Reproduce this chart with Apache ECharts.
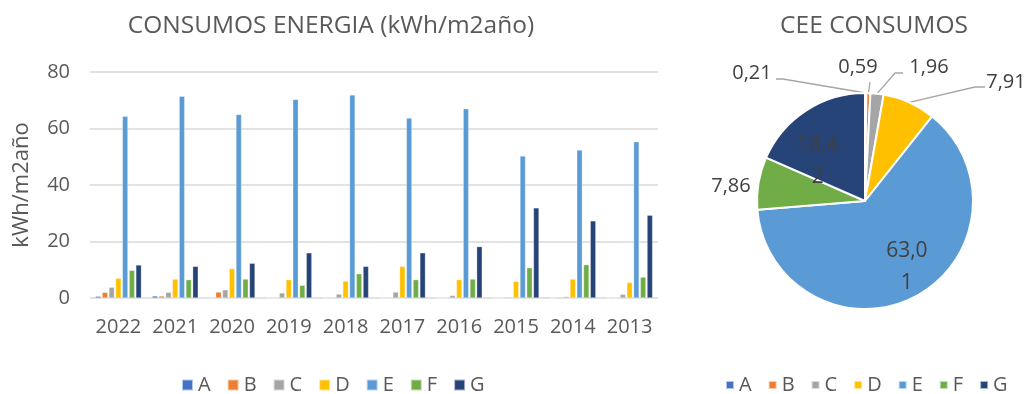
<!DOCTYPE html>
<html>
<head>
<meta charset="utf-8">
<script src="https://cdn.jsdelivr.net/npm/echarts@6/dist/echarts.min.js"></script>
<style>
  html, body { margin: 0; padding: 0; background: #fff; }
  #chart { width: 1032px; height: 394px; }
</style>
</head>
<body>
<div id="chart"></div>
<script>
// Years on the category axis
const years = ['2022', '2021', '2020', '2019', '2018', '2017', '2016', '2015', '2014', '2013'];
// Energy-rating classes
const classes = ['A', 'B', 'C', 'D', 'E', 'F', 'G'];
// Consumption per class and year (kWh/m2año)
const seriesA = [0.6, 0.7, 0, 0, 0, 0, 0, 0, 0, 0];
const seriesB = [2.0, 0.7, 2.1, 0, 0, 0, 0, 0, 0.3, 0];
const seriesC = [3.8, 2.0, 2.9, 1.8, 1.4, 2.1, 0.9, 0.3, 0.5, 1.3];
const seriesD = [7.0, 6.7, 10.4, 6.5, 6.0, 11.2, 6.5, 5.9, 6.7, 5.5];
const seriesE = [64.3, 71.4, 65.0, 70.3, 71.9, 63.7, 67.0, 50.3, 52.4, 55.3];
const seriesF = [9.8, 6.5, 6.7, 4.5, 8.6, 6.5, 6.7, 10.7, 11.8, 7.4];
const seriesG = [11.7, 11.2, 12.3, 16.0, 11.2, 16.0, 18.2, 31.9, 27.3, 29.3];
// Share of each class in the CEE consumption
const ceeValues = [0.21, 0.59, 1.96, 7.91, 63.01, 7.86, 18.42];
// Value-axis ticks
const yTicks = [0, 20, 40, 60, 80];

const palette = ['#4472C4', '#ED7D31', '#A5A5A5', '#FFC000', '#5B9BD5', '#70AD47', '#264478'];
const FONT = 'Open Sans';
const TXT = '#595959';

const barData = [seriesA, seriesB, seriesC, seriesD, seriesE, seriesF, seriesG];

const fmt = v => v.toFixed(2).replace('.', ',');

// Placement of the outside pie labels (anchor point, line elbow)
const outsideLabels = {
  0: { x: 752, y: 73, elbow: [783, 79], end: [776, 79] },
  1: { x: 858, y: 67, elbow: [870, 82], end: [870, 82] },
  2: { x: 929, y: 67, elbow: [895, 73], end: [903, 73] },
  3: { x: 1006, y: 82, elbow: [975, 87], end: [985, 87] },
  5: { x: 731, y: 186 }
};
// Nudges for the labels drawn inside the large slices
const insideNudge = { 4: [15, 16], 6: [-16, 8] };

const chart = echarts.init(document.getElementById('chart'), null, { renderer: 'canvas' });

chart.setOption({
  animation: false,
  color: palette,
  textStyle: { fontFamily: FONT, color: TXT },
  title: [
    { text: 'CONSUMOS ENERGIA (kWh/m2año)', left: 326, top: 9, textAlign: 'center',
      textStyle: { fontFamily: FONT, fontSize: 24.5, fontWeight: 'normal', color: TXT } },
    { text: 'CEE CONSUMOS', left: 869, top: 9, textAlign: 'center',
      textStyle: { fontFamily: FONT, fontSize: 24.5, fontWeight: 'normal', color: TXT } }
  ],
  legend: [
    { data: classes, left: 176, top: 370, itemWidth: 11, itemHeight: 11, itemGap: 16,
      icon: 'rect', textStyle: { fontFamily: FONT, fontSize: 20, color: TXT } },
    { data: classes, left: 720, top: 370, itemWidth: 8, itemHeight: 8, itemGap: 16,
      icon: 'rect', textStyle: { fontFamily: FONT, fontSize: 20, color: TXT } }
  ],
  grid: { left: 90, right: 374, top: 72, bottom: 96 },
  xAxis: {
    type: 'category', data: years,
    axisLine: { show: false }, axisTick: { show: false },
    axisLabel: { fontFamily: FONT, fontSize: 20, color: TXT, margin: 19, interval: 0 }
  },
  yAxis: {
    type: 'value', min: yTicks[0], max: yTicks[yTicks.length - 1], interval: 20,
    name: 'kWh/m2año', nameLocation: 'middle', nameGap: 57,
    nameTextStyle: { fontFamily: FONT, fontSize: 22, color: TXT },
    axisLine: { show: false }, axisTick: { show: false },
    axisLabel: { fontFamily: FONT, fontSize: 20, color: TXT, margin: 20 },
    splitLine: { lineStyle: { color: '#D9D9D9', width: 1.5 } }
  },
  series: classes.map((name, i) => ({
    name, type: 'bar', data: barData[i],
    barGap: '22%', barCategoryGap: '19%',
    itemStyle: { color: palette[i], borderColor: 'rgba(255,255,255,0.6)', borderWidth: 0.5 }
  })).concat([{
    name: 'CEE', type: 'pie',
    center: [865, 201], radius: 108,
    startAngle: 90, clockwise: true,
    avoidLabelOverlap: false,
    itemStyle: { borderColor: '#fff', borderWidth: 2 },
    label: {
      show: true, position: 'outside', fontFamily: FONT, fontSize: 20, color: '#404040',
      formatter: p => fmt(p.value)
    },
    labelLine: { show: true, length: 10, length2: 10, lineStyle: { color: '#A6A6A6', width: 1.3 } },
    data: classes.map((name, i) => {
      const d = { name, value: ceeValues[i], itemStyle: { color: palette[i] } };
      if (i === 4 || i === 6) {
        d.label = { position: 'inside', width: 46, overflow: 'breakAll', lineHeight: 32,
          fontSize: 21, color: '#404040' };
        d.labelLine = { show: false };
      }
      if (i === 5) d.labelLine = { show: false };
      return d;
    }),
    labelLayout: function (params) {
      const idx = params.dataIndex;
      if (insideNudge[idx]) {
        return { dx: insideNudge[idx][0], dy: insideNudge[idx][1] };
      }
      const spot = outsideLabels[idx];
      if (!spot) return {};
      const out = { x: spot.x, y: spot.y, align: 'center', verticalAlign: 'middle' };
      if (spot.elbow && params.labelLinePoints) {
        out.labelLinePoints = [params.labelLinePoints[0], spot.elbow, spot.end];
      }
      return out;
    }
  }])
});
</script>
</body>
</html>
